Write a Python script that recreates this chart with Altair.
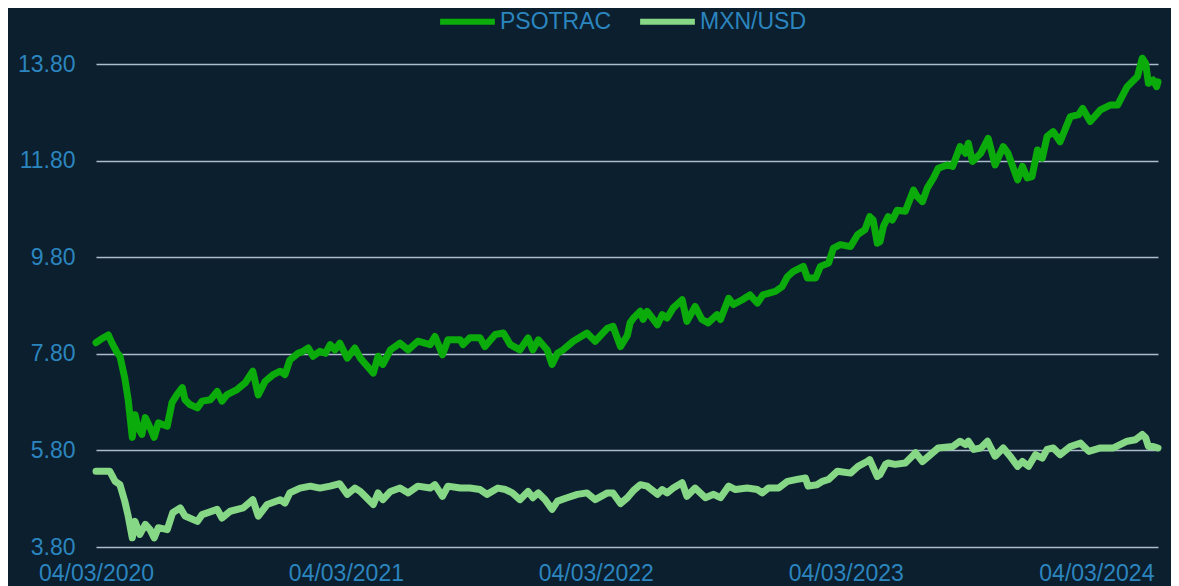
import altair as alt
import pandas as pd

psotrac_dates = [
    "2020-03-04", "2020-03-11", "2020-03-22", "2020-03-27", "2020-04-04", "2020-04-08",
    "2020-04-15", "2020-04-20", "2020-04-26", "2020-04-30", "2020-05-04", "2020-05-10",
    "2020-05-15", "2020-05-22", "2020-05-28", "2020-06-03", "2020-06-10", "2020-06-16",
    "2020-06-23", "2020-06-30", "2020-07-08", "2020-07-12", "2020-07-19", "2020-07-30",
    "2020-08-06", "2020-08-18", "2020-08-28", "2020-09-04", "2020-09-11", "2020-09-26",
    "2020-10-08", "2020-10-19", "2020-10-27", "2020-11-06", "2020-11-18", "2020-11-28",
    "2020-12-05", "2020-12-12", "2020-12-24", "2020-12-31", "2021-01-08", "2021-01-15",
    "2021-01-25", "2021-02-02", "2021-02-09", "2021-02-16", "2021-02-23", "2021-03-06",
    "2021-03-17", "2021-03-25", "2021-04-02", "2021-04-13", "2021-04-20", "2021-04-27",
    "2021-05-08", "2021-05-22", "2021-06-03", "2021-06-17", "2021-07-05", "2021-07-12",
    "2021-07-23", "2021-07-31", "2021-08-18", "2021-08-22", "2021-09-01", "2021-09-16",
    "2021-09-23", "2021-10-08", "2021-10-20", "2021-10-30", "2021-11-13", "2021-11-25",
    "2021-12-02", "2021-12-10", "2021-12-23", "2021-12-30", "2022-01-07", "2022-01-15",
    "2022-01-30", "2022-02-19", "2022-03-03", "2022-03-21", "2022-03-29", "2022-04-09",
    "2022-04-19", "2022-04-23", "2022-04-28", "2022-05-08", "2022-05-12", "2022-05-18",
    "2022-06-02", "2022-06-09", "2022-06-16", "2022-06-25", "2022-07-08", "2022-07-15",
    "2022-07-27", "2022-08-06", "2022-08-15", "2022-08-28", "2022-09-02", "2022-09-14",
    "2022-09-21", "2022-10-04", "2022-10-15", "2022-10-26", "2022-11-03", "2022-11-21",
    "2022-12-01", "2022-12-09", "2022-12-17", "2023-01-01", "2023-01-07", "2023-01-19",
    "2023-01-26", "2023-02-07", "2023-02-14", "2023-02-24", "2023-03-11", "2023-03-21",
    "2023-04-01", "2023-04-08", "2023-04-13", "2023-04-19", "2023-04-23", "2023-04-28",
    "2023-05-05", "2023-05-11", "2023-05-18", "2023-05-30", "2023-06-11", "2023-06-16",
    "2023-06-24", "2023-07-01", "2023-07-10", "2023-07-17", "2023-07-30", "2023-08-07",
    "2023-08-18", "2023-08-26", "2023-08-30", "2023-09-05", "2023-09-17", "2023-09-28",
    "2023-10-08", "2023-10-20", "2023-10-27", "2023-11-02", "2023-11-10", "2023-11-17",
    "2023-11-24", "2023-12-01", "2023-12-09", "2023-12-16", "2023-12-23", "2024-01-01",
    "2024-01-11", "2024-01-26", "2024-02-07", "2024-02-13", "2024-02-24", "2024-03-10",
    "2024-03-24", "2024-04-04", "2024-04-18", "2024-05-03", "2024-05-10", "2024-05-15",
    "2024-05-19", "2024-05-26", "2024-05-31", "2024-06-02",
]
psotrac_values = [
    8.03, 8.10, 8.19, 8.03, 7.82, 7.75,
    7.30, 6.85, 6.07, 6.54, 6.30, 6.13,
    6.48, 6.27, 6.07, 6.37, 6.33, 6.30,
    6.79, 6.95, 7.10, 6.85, 6.75, 6.68,
    6.82, 6.85, 7.02, 6.82, 6.95, 7.06,
    7.20, 7.44, 6.95, 7.23, 7.37, 7.44,
    7.37, 7.67, 7.81, 7.85, 7.92, 7.75,
    7.85, 7.81, 7.99, 7.88, 8.02, 7.71,
    7.92, 7.71, 7.58, 7.40, 7.75, 7.58,
    7.88, 8.02, 7.88, 8.06, 7.99, 8.16,
    7.78, 8.09, 8.09, 7.99, 8.13, 8.13,
    7.95, 8.20, 8.23, 7.99, 7.88, 8.13,
    7.88, 8.09, 7.88, 7.58, 7.81, 7.88,
    8.06, 8.23, 8.06, 8.33, 8.37, 7.95,
    8.18, 8.44, 8.54, 8.68, 8.51, 8.68,
    8.40, 8.61, 8.54, 8.75, 8.92, 8.47,
    8.78, 8.51, 8.44, 8.61, 8.51, 8.95,
    8.82, 8.92, 9.02, 8.85, 9.02, 9.09,
    9.19, 9.40, 9.50, 9.61, 9.37, 9.37,
    9.61, 9.68, 9.99, 10.06, 10.02, 10.26,
    10.37, 10.64, 10.57, 10.09, 10.12, 10.44,
    10.64, 10.57, 10.77, 10.75, 11.19, 11.06,
    10.95, 11.23, 11.44, 11.64, 11.71, 11.68,
    12.09, 11.95, 12.16, 11.78, 11.95, 12.26,
    11.71, 12.09, 11.95, 11.71, 11.40, 11.68,
    11.44, 11.47, 12.02, 11.85, 12.30, 12.40,
    12.19, 12.71, 12.75, 12.88, 12.61, 12.85,
    12.95, 12.95, 13.33, 13.54, 13.92, 13.81,
    13.40, 13.47, 13.33, 13.43,
]

mxn_dates = [
    "2020-03-04", "2020-03-24", "2020-04-01", "2020-04-08", "2020-04-15", "2020-04-20",
    "2020-04-26", "2020-04-30", "2020-05-07", "2020-05-15", "2020-05-22", "2020-05-28",
    "2020-06-03", "2020-06-16", "2020-06-24", "2020-07-05", "2020-07-12", "2020-07-30",
    "2020-08-06", "2020-08-28", "2020-09-04", "2020-09-16", "2020-10-05", "2020-10-19",
    "2020-10-27", "2020-11-09", "2020-11-28", "2020-12-05", "2020-12-12", "2020-12-27",
    "2021-01-11", "2021-01-25", "2021-02-09", "2021-02-23", "2021-03-06", "2021-03-17",
    "2021-03-25", "2021-04-01", "2021-04-06", "2021-04-13", "2021-04-20", "2021-04-27",
    "2021-05-08", "2021-05-22", "2021-06-03", "2021-06-17", "2021-07-05", "2021-07-12",
    "2021-07-23", "2021-07-31", "2021-08-18", "2021-09-01", "2021-09-16", "2021-09-26",
    "2021-10-12", "2021-10-23", "2021-11-02", "2021-11-13", "2021-11-25", "2021-12-02",
    "2021-12-10", "2021-12-20", "2021-12-30", "2022-01-07", "2022-01-21", "2022-02-05",
    "2022-02-19", "2022-03-03", "2022-03-21", "2022-03-29", "2022-04-09", "2022-04-19",
    "2022-04-28", "2022-05-08", "2022-05-18", "2022-06-02", "2022-06-09", "2022-06-16",
    "2022-06-25", "2022-07-08", "2022-07-15", "2022-07-27", "2022-08-11", "2022-08-23",
    "2022-09-02", "2022-09-14", "2022-09-24", "2022-10-11", "2022-10-26", "2022-11-02",
    "2022-11-11", "2022-11-26", "2022-12-09", "2022-12-23", "2023-01-04", "2023-01-08",
    "2023-01-21", "2023-01-29", "2023-02-07", "2023-02-20", "2023-03-11", "2023-03-22",
    "2023-04-04", "2023-04-08", "2023-04-19", "2023-04-23", "2023-05-01", "2023-05-05",
    "2023-05-15", "2023-05-30", "2023-06-14", "2023-06-24", "2023-07-17", "2023-08-07",
    "2023-08-18", "2023-08-26", "2023-08-30", "2023-09-07", "2023-09-17", "2023-09-27",
    "2023-10-08", "2023-10-20", "2023-10-30", "2023-11-10", "2023-11-17", "2023-11-26",
    "2023-12-06", "2023-12-16", "2023-12-23", "2024-01-01", "2024-01-11", "2024-01-26",
    "2024-02-10", "2024-02-22", "2024-03-10", "2024-03-29", "2024-04-18", "2024-04-30",
    "2024-05-10", "2024-05-15", "2024-05-19", "2024-05-26", "2024-06-02",
]
mxn_values = [
    5.37, 5.37, 5.16, 5.09, 4.75, 4.44,
    3.99, 4.33, 4.06, 4.27, 4.16, 3.99,
    4.20, 4.16, 4.51, 4.61, 4.44, 4.33,
    4.47, 4.58, 4.40, 4.54, 4.61, 4.78,
    4.44, 4.68, 4.78, 4.71, 4.92, 5.02,
    5.06, 5.02, 5.06, 5.11, 4.89, 5.02,
    4.95, 4.85, 4.78, 4.68, 4.92, 4.78,
    4.95, 5.02, 4.92, 5.06, 5.02, 5.09,
    4.85, 5.06, 5.02, 5.02, 4.99, 4.89,
    5.02, 4.99, 4.92, 4.78, 4.95, 4.82,
    4.92, 4.78, 4.58, 4.75, 4.82, 4.89,
    4.92, 4.78, 4.92, 4.92, 4.70, 4.82,
    4.97, 5.09, 5.06, 4.89, 4.99, 4.92,
    5.02, 5.13, 4.85, 5.02, 4.82, 4.89,
    4.82, 5.06, 4.99, 5.02, 4.99, 4.92,
    5.02, 5.02, 5.16, 5.20, 5.23, 5.06,
    5.09, 5.16, 5.20, 5.37, 5.33, 5.47,
    5.57, 5.61, 5.26, 5.30, 5.51, 5.54,
    5.51, 5.54, 5.75, 5.57, 5.85, 5.88,
    5.99, 5.92, 5.99, 5.82, 5.85, 5.99,
    5.68, 5.85, 5.68, 5.47, 5.57, 5.47,
    5.71, 5.64, 5.82, 5.85, 5.71, 5.88,
    5.95, 5.78, 5.85, 5.85, 5.99, 6.02,
    6.13, 6.06, 5.88, 5.88, 5.85,
]

series_names = ["PSOTRAC", "MXN/USD"]
series_colors = ["#0aab0a", "#86d786"]
y_ticks = [3.8, 5.8, 7.8, 9.8, 11.8, 13.8]
x_ticks = ["2020-03-04", "2021-03-04", "2022-03-04", "2023-03-04", "2024-03-04"]
x_domain = ["2020-03-04", "2024-06-02"]

df = pd.concat([
    pd.DataFrame({"fecha": psotrac_dates, "valor": psotrac_values, "serie": series_names[0]}),
    pd.DataFrame({"fecha": mxn_dates, "valor": mxn_values, "serie": series_names[1]}),
])

BG = "#0c1f2e"
TXT = "#2b85bf"
FONT = "Liberation Sans"

chart = (
    alt.Chart(df)
    .mark_line(strokeWidth=7, strokeCap="round", strokeJoin="round", clip=False)
    .encode(
        x=alt.X(
            "fecha:T",
            scale=alt.Scale(domain=x_domain),
            axis=alt.Axis(
                title=None,
                values=[pd.Timestamp(d).isoformat() for d in x_ticks],
                format="%d/%m/%Y",
                grid=False,
                domain=False,
                ticks=False,
                labelPadding=15,
                labelFontSize=23,
                labelColor=TXT,
                labelFont=FONT,
                labelFlush=False,
                labelOverlap=False,
            ),
        ),
        y=alt.Y(
            "valor:Q",
            scale=alt.Scale(domain=[3.8, 13.8], nice=False, zero=False),
            axis=alt.Axis(
                title=None,
                values=y_ticks,
                format=".2f",
                grid=True,
                gridColor="#aabdcb",
                gridWidth=1.5,
                domain=False,
                ticks=False,
                labelPadding=21,
                labelFontSize=23,
                labelColor=TXT,
                labelFont=FONT,
            ),
        ),
        color=alt.Color(
            "serie:N",
            scale=alt.Scale(domain=series_names, range=series_colors),
            sort=series_names,
            legend=alt.Legend(
                title=None,
                orient="none",
                direction="horizontal",
                legendX=341,
                legendY=-73,
                symbolType="stroke",
                symbolSize=3000,
                symbolStrokeWidth=6,
                labelFontSize=23,
                labelColor=TXT,
                labelFont=FONT,
                columnPadding=16,
                labelOffset=2,
            ),
        ),
        order=alt.Order("fecha:T"),
    )
    .properties(
        width=1062,
        height=483,
        background=BG,
        autosize=alt.AutoSizeParams(type="none"),
        padding={"left": 88, "top": 56, "right": 13, "bottom": 39},
    )
    .configure_view(stroke=None)
)

chart.save("out.html", embed_options={"renderer": "svg", "actions": False})
